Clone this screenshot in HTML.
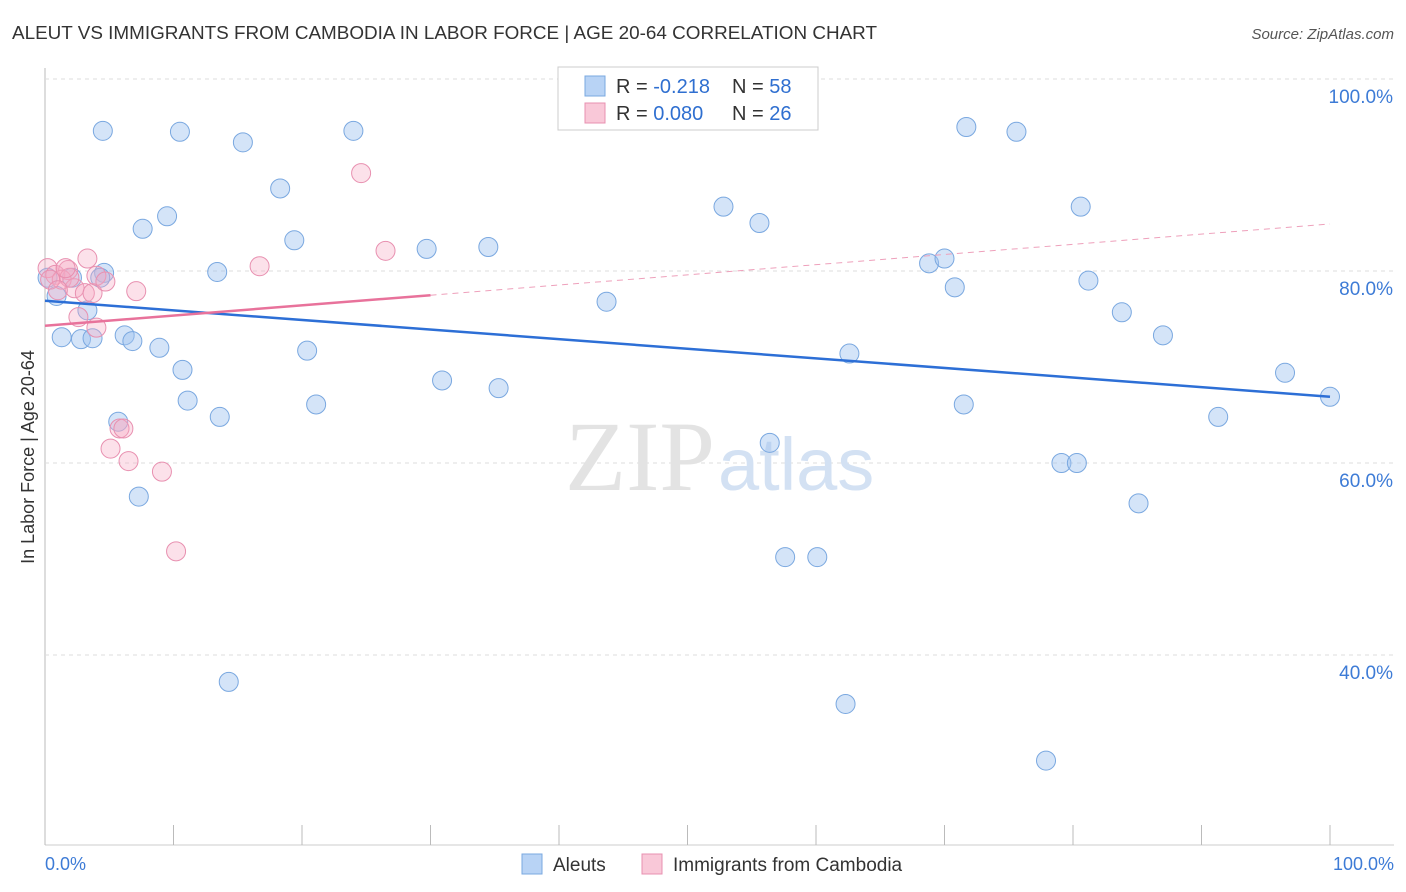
<!DOCTYPE html>
<html><head><meta charset="utf-8"><style>
body{margin:0;background:#fff;font-family:"Liberation Sans",sans-serif}
svg{display:block}
</style></head><body>
<svg width="1406" height="892">
<text x="12" y="39" font-size="18" fill="#333" textLength="865" lengthAdjust="spacingAndGlyphs">ALEUT VS IMMIGRANTS FROM CAMBODIA IN LABOR FORCE | AGE 20-64 CORRELATION CHART</text>
<text x="1394" y="39" font-size="15" fill="#555" font-style="italic" text-anchor="end">Source: ZipAtlas.com</text>
<text x="34" y="457" font-size="18" fill="#333" text-anchor="middle" transform="rotate(-90 34 457)">In Labor Force | Age 20-64</text>
<g id="grid"></g>
<text x="715" y="490" font-size="100" fill="#e3e3e3" text-anchor="end" font-family="Liberation Serif,serif">ZIP</text>
<text x="718" y="490" font-size="74" fill="#d3e1f3">atlas</text>
<g id="marks"></g>
<g>
<rect x="558" y="67" width="260" height="63" fill="#fff" stroke="#ccc"/>
<rect x="585" y="76" width="20" height="20" fill="#b8d3f5" stroke="#7aa8e0"/>
<rect x="585" y="103" width="20" height="20" fill="#f9c8d8" stroke="#e890b0"/>
<text x="616" y="93" font-size="20" fill="#333">R = <tspan fill="#2f6fd0">-0.218</tspan></text>
<text x="732" y="93" font-size="20" fill="#333">N = <tspan fill="#2f6fd0">58</tspan></text>
<text x="616" y="120" font-size="20" fill="#333">R = <tspan fill="#2f6fd0">0.080</tspan></text>
<text x="732" y="120" font-size="20" fill="#333">N = <tspan fill="#2f6fd0">26</tspan></text>
</g>
<g>
<rect x="522" y="854" width="20" height="20" fill="#b8d3f5" stroke="#7aa8e0"/>
<text x="553" y="871" font-size="19" fill="#333">Aleuts</text>
<rect x="642" y="854" width="20" height="20" fill="#f9c8d8" stroke="#e890b0"/>
<text x="673" y="871" font-size="19" fill="#333">Immigrants from Cambodia</text>
</g>
<text x="45" y="870" font-size="18" fill="#3d7bd6">0.0%</text>
<text x="1394" y="870" font-size="18" fill="#3d7bd6" text-anchor="end">100.0%</text>
</svg>
<script>
const blueX=[4.5,10.5,15.4,24.0,18.3,9.5,7.6,19.4,13.4,4.6,2.1,0.9,3.3,1.3,2.8,3.7,6.2,6.8,8.9,20.4,10.7,11.1,13.6,21.1,30.9,35.3,29.7,34.5,43.7,52.8,55.6,5.7,7.3,14.3,56.4,57.6,60.1,62.3,62.6,68.8,70.0,70.8,71.5,71.7,75.6,77.9,79.1,80.3,80.6,81.2,83.8,85.1,87.0,91.3,96.5,100,0.2,4.3];
const blueY=[94.6,94.5,93.4,94.6,88.6,85.7,84.4,83.2,79.9,79.8,79.3,77.4,75.9,73.1,72.9,73.0,73.3,72.7,72.0,71.7,69.7,66.5,64.8,66.1,68.6,67.8,82.3,82.5,76.8,86.7,85.0,64.3,56.5,37.2,62.1,50.2,50.2,34.9,71.4,80.8,81.3,78.3,66.1,95.0,94.5,29.0,60.0,60.0,86.7,79.0,75.7,55.8,73.3,64.8,69.4,66.9,79.3,79.3];
const pinkX=[0.2,0.8,1.8,1.3,2.3,3.1,3.7,3.3,4.0,4.7,2.6,4.0,7.1,5.8,6.1,5.1,6.5,9.1,10.2,16.7,24.6,26.5,0.4,1.9,1.0,1.6];
const pinkY=[80.3,79.6,80.1,79.1,78.2,77.7,77.7,81.3,79.5,78.9,75.2,74.1,77.9,63.6,63.6,61.5,60.2,59.1,50.8,80.5,90.2,82.1,79.1,79.3,78.0,80.3];
const blueTrend=[76.9,66.9];
const pinkTrend=[74.3,84.9];
const pinkSolidEnd=30;
const yTicks=[100,80,60,40];
const xTicks=[0,10,20,30,40,50,60,70,80,90,100];
const NS='http://www.w3.org/2000/svg';
const sx=v=>45+v*12.85, sy=v=>271-(v-80)*9.6;
const grid=document.getElementById('grid'), marks=document.getElementById('marks');
function mk(tag,at,p){const e=document.createElementNS(NS,tag);for(const k in at)e.setAttribute(k,at[k]);p.appendChild(e);return e;}
let ax=mk('line',{x1:45,y1:68,x2:45,y2:845,stroke:'#bbb'},grid);


let bx=mk('line',{x1:45,y1:845,x2:1394,y2:845,stroke:'#ccc'},grid);


yTicks.forEach(t=>{
 const l=mk('line',{x1:45,x2:1394,y1:sy(t),y2:sy(t),stroke:'#ddd','stroke-dasharray':'4 4'},grid);
 
 
 const tx=mk('text',{x:1393,y:sy(t)+24,'font-size':19,fill:'#3d7bd6','text-anchor':'end'},grid);
 tx.textContent=t.toFixed(1)+'%';
 
 
});
xTicks.forEach(t=>{
 const l=mk('line',{x1:sx(t),x2:sx(t),y1:825,y2:845,stroke:'#bbb'},grid);
 
 
});
blueX.forEach((x,i)=>{
 const c=mk('circle',{cx:sx(x),cy:sy(blueY[i]),r:9.5,fill:'rgba(160,195,240,0.45)',stroke:'#7aa8e0','stroke-width':1},marks);
 
 
});
pinkX.forEach((x,i)=>{
 const c=mk('circle',{cx:sx(x),cy:sy(pinkY[i]),r:9.5,fill:'rgba(245,170,195,0.35)',stroke:'#e890b0','stroke-width':1},marks);
 
 
});
let bt=mk('line',{x1:sx(0),y1:sy(blueTrend[0]),x2:sx(100),y2:sy(blueTrend[1]),stroke:'#2d6fd6','stroke-width':2.5},marks);


const py=x=>pinkTrend[0]+(pinkTrend[1]-pinkTrend[0])*x/100;
let pt=mk('line',{x1:sx(0),y1:sy(py(0)),x2:sx(pinkSolidEnd),y2:sy(py(pinkSolidEnd)),stroke:'#e8729b','stroke-width':2.5},marks);


let pd=mk('line',{x1:sx(pinkSolidEnd),y1:sy(py(pinkSolidEnd)),x2:sx(100),y2:sy(py(100)),stroke:'#eea0bb','stroke-width':1,'stroke-dasharray':'6 5'},marks);


</script>
</body></html>
